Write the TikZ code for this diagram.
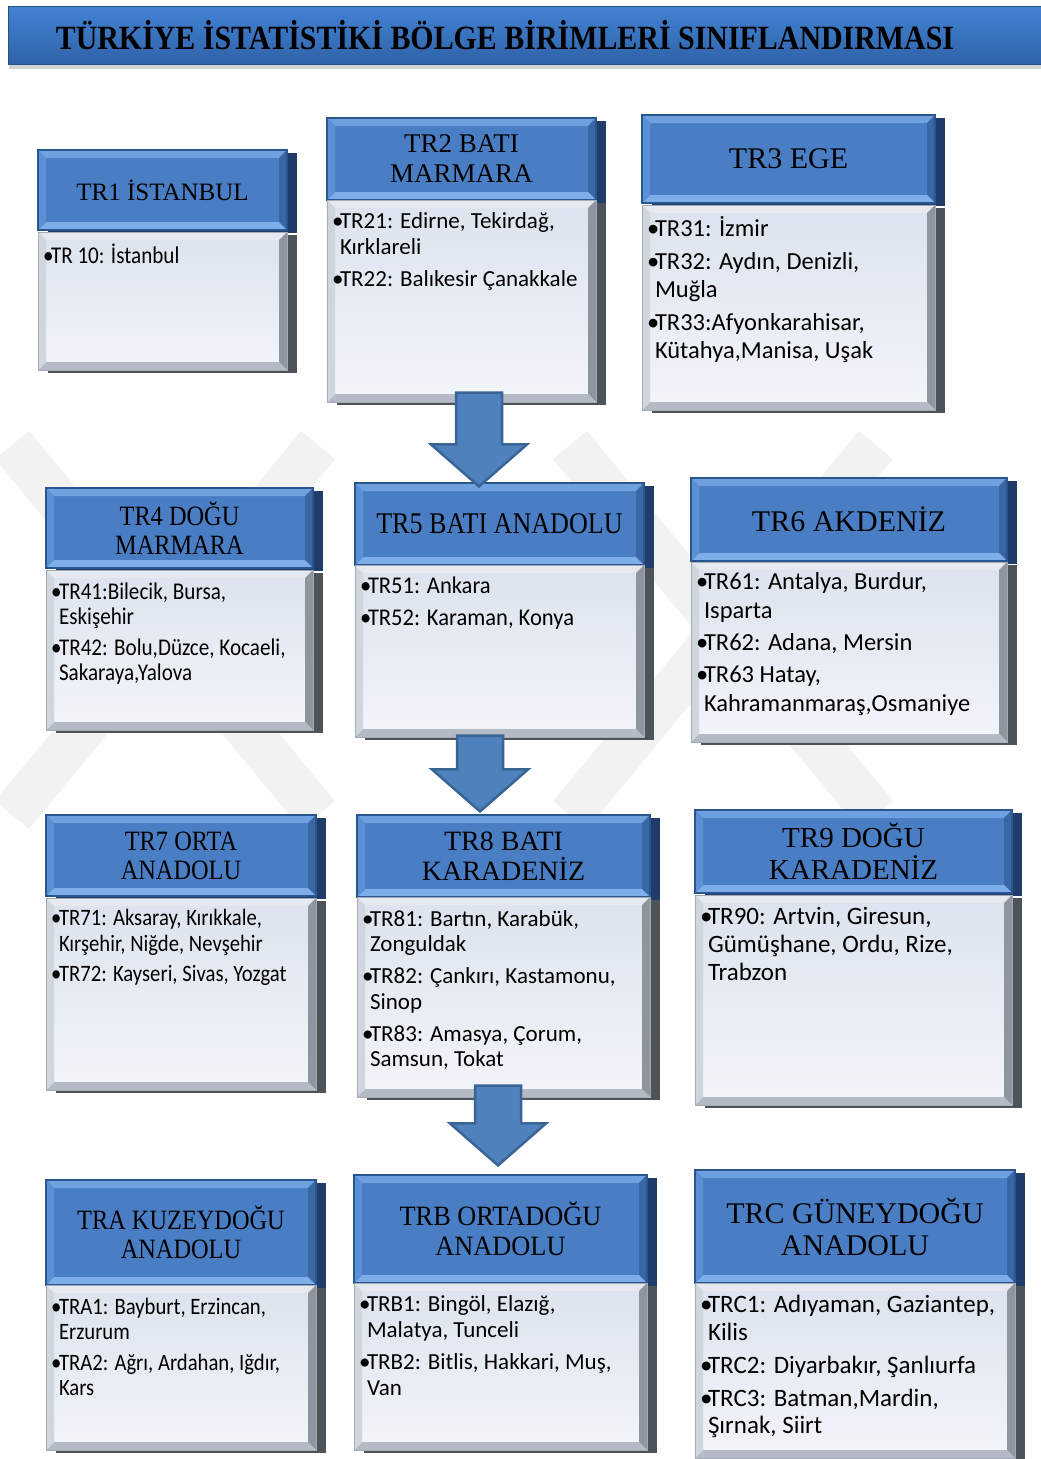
\documentclass[tikz,border=0pt]{standalone}
\usepackage{fontspec}
\setmainfont{Liberation Serif}
\newfontfamily\calibri{Carlito}
\newfontfamily\calibrin{Carlito}[FakeStretch=0.88]
\newfontfamily\calibris{Carlito}[FakeStretch=0.94]
\newfontfamily\timesn{Liberation Serif}[FakeStretch=0.87]
\newfontfamily\timess{Liberation Serif}[FakeStretch=0.94]
\newfontfamily\timest{Liberation Serif}[FakeStretch=0.88]
\usetikzlibrary{calc,shadows}

\definecolor{hdrface}{HTML}{4A7EC4}
\definecolor{hdredge}{HTML}{2A5690}
\definecolor{hdrtop}{HTML}{6FA1E0}
\definecolor{hdrright}{HTML}{3A66A3}
\definecolor{hdrbot}{HTML}{7DAEEA}
\definecolor{hdrleft}{HTML}{5C90D4}
\definecolor{hdrshade}{HTML}{1F3C6B}
\definecolor{bodytop}{HTML}{DCE3EE}
\definecolor{bodybot}{HTML}{F2F5FA}
\definecolor{bodyedge}{HTML}{A3ABB6}
\definecolor{bodytopb}{HTML}{E6EAF0}
\definecolor{bodyright}{HTML}{8E959E}
\definecolor{bodybotb}{HTML}{B4BBC5}
\definecolor{bodyleft}{HTML}{D0D6DE}
\definecolor{bodyshade}{HTML}{4E535A}
\definecolor{arrowblue}{HTML}{4F81BD}
\definecolor{arrowedge}{HTML}{3A6496}
\definecolor{bartop}{HTML}{4283D3}
\definecolor{barbot}{HTML}{2F62A8}
\definecolor{baredge}{HTML}{2A4F80}

% one bullet line, later lines hang under the text
\newcommand{\itm}{\par\hangindent=8pt\hangafter=1\noindent\makebox[8pt][l]{•}}
\newcommand{\btext}[4]{\parbox[c][#2pt][t]{#1pt}{#3\raggedright\leftskip=5pt\relax\vspace*{7pt}#4}}

\begin{document}
\begin{tikzpicture}[x=1pt, y=-1pt,
    bevel/.style n args={5}{path picture={
      \fill[#2] (path picture bounding box.north west) -- (path picture bounding box.north east) -- ([xshift=-#1,yshift=-#1]path picture bounding box.north east) -- ([xshift=#1,yshift=-#1]path picture bounding box.north west) -- cycle;
      \fill[#3] (path picture bounding box.north east) -- (path picture bounding box.south east) -- ([xshift=-#1,yshift=#1]path picture bounding box.south east) -- ([xshift=-#1,yshift=-#1]path picture bounding box.north east) -- cycle;
      \fill[#4] (path picture bounding box.south east) -- (path picture bounding box.south west) -- ([xshift=#1,yshift=#1]path picture bounding box.south west) -- ([xshift=-#1,yshift=#1]path picture bounding box.south east) -- cycle;
      \fill[#5] (path picture bounding box.south west) -- (path picture bounding box.north west) -- ([xshift=#1,yshift=-#1]path picture bounding box.north west) -- ([xshift=#1,yshift=#1]path picture bounding box.south west) -- cycle;}},
    hdr/.style={draw=hdredge, line width=1.2pt, fill=hdrface, bevel={8pt}{hdrtop}{hdrright}{hdrbot}{hdrleft}, inner sep=0pt, align=center, text=black,
      drop shadow={shadow xshift=10pt, shadow yshift=-3pt, fill=hdrshade, opacity=1}},
    body/.style={draw=bodyedge, line width=1pt, top color=bodytop, bottom color=bodybot, bevel={8pt}{bodytopb}{bodyright}{bodybotb}{bodyleft}, inner sep=0pt,
      drop shadow={shadow xshift=10pt, shadow yshift=-3pt, fill=bodyshade, opacity=1}},
    titlebar/.style={draw=baredge, line width=1pt, top color=bartop, bottom color=barbot, inner sep=0pt, drop shadow={shadow xshift=1pt, shadow yshift=-5pt, opacity=.35}, font=\timest\bfseries\fontsize{34}{34}\selectfont},
    wmark/.style={draw=black!5, line width=44pt},
    bigarrow/.style={fill=arrowblue, draw=arrowedge, line width=2.5pt, line join=miter,
      to path={let \p1=(\tikztostart), \p2=(\tikztotarget) in
        ({\x1-23pt},{\y1}) -- ({\x1+23pt},{\y1}) -- ({\x1+23pt},{\y2+42pt}) -- ({\x1+48pt},{\y2+42pt})
        -- ({\x1},{\y2}) -- ({\x1-48pt},{\y2+42pt}) -- ({\x1-23pt},{\y2+42pt}) -- cycle}}]

  \useasboundingbox[fill=white] (0,0) rectangle (1041,1459);

  % watermark
  \draw[wmark] (12,445) -- (318,815);
  \draw[wmark] (318,445) -- (12,815);
  \draw[wmark] (570,445) -- (876,815);
  \draw[wmark] (876,445) -- (570,815);

  \node[titlebar, minimum width=1040pt, minimum height=58pt] (title) at (528,35)
    {\hspace*{-46pt}TÜRKİYE İSTATİSTİKİ BÖLGE BİRİMLERİ SINIFLANDIRMASI};

  \begin{scope}[every node/.style={hdr}]
    \node[minimum width=249pt, minimum height=80pt, font=\fontsize{25}{29}\selectfont] (h1) at (162.5,190) {TR1 İSTANBUL};
    \node[minimum width=269pt, minimum height=82pt, font=\fontsize{27}{30}\selectfont] (h2) at (461.5,159) {TR2 BATI\\MARMARA};
    \node[minimum width=293pt, minimum height=88pt, font=\fontsize{30}{32}\selectfont] (h3) at (788.5,159) {TR3 EGE};
    \node[minimum width=267pt, minimum height=80pt, font=\timesn\fontsize{28}{29}\selectfont] (h4) at (179.5,528) {TR4 DOĞU\\MARMARA};
    \node[minimum width=289pt, minimum height=82pt, font=\timesn\fontsize{30}{32}\selectfont] (h5) at (499.5,524) {TR5 BATI ANADOLU};
    \node[minimum width=316pt, minimum height=83pt, font=\fontsize{30}{32}\selectfont] (h6) at (849,519.5) {TR6 AKDENİZ};
    \node[minimum width=270pt, minimum height=81pt, font=\timesn\fontsize{28}{29}\selectfont] (h7) at (181,855.5) {TR7 ORTA\\ANADOLU};
    \node[minimum width=293pt, minimum height=82pt, font=\fontsize{28}{30}\selectfont] (h8) at (503.5,856) {TR8 BATI\\KARADENİZ};
    \node[minimum width=317pt, minimum height=83pt, font=\fontsize{29}{32}\selectfont] (h9) at (853.5,851.5) {TR9 DOĞU\\KARADENİZ};
    \node[minimum width=270pt, minimum height=105pt, font=\timesn\fontsize{28}{29}\selectfont] (hA) at (181,1232.5) {TRA KUZEYDOĞU\\ANADOLU};
    \node[minimum width=293pt, minimum height=108pt, font=\timess\fontsize{28}{30}\selectfont] (hB) at (500.5,1229) {TRB ORTADOĞU\\ANADOLU};
    \node[minimum width=320pt, minimum height=113pt, font=\fontsize{30}{32}\selectfont] (hC) at (855,1226.5) {TRC GÜNEYDOĞU\\ANADOLU};
  \end{scope}

  \begin{scope}[every node/.style={body}]
    \node (b1) at (162.5,301) {\btext{249}{138}{\calibrin\fontsize{24}{27}\selectfont\parskip=5pt}{\itm TR 10: İstanbul}};
    \node (b2) at (461.5,301) {\btext{269}{202}{\calibri\fontsize{23}{26}\selectfont\parskip=6pt}{\itm TR21: Edirne, Tekirdağ,\newline Kırklareli \itm TR22: Balıkesir Çanakkale}};
    \node (b3) at (788.5,307.5) {\btext{293}{205}{\calibri\fontsize{24.5}{28}\selectfont\parskip=5pt}{\itm TR31: İzmir \itm TR32: Aydın, Denizli,\newline Muğla \itm TR33:Afyonkarahisar,\newline Kütahya,Manisa, Uşak}};
    \node (b4) at (179.5,650) {\btext{267}{160}{\calibrin\fontsize{24}{25}\selectfont\parskip=6pt}{\itm TR41:Bilecik, Bursa,\newline Eskişehir \itm TR42: Bolu,Düzce, Kocaeli,\newline Sakaraya,Yalova}};
    \node (b5) at (499.5,651) {\btext{289}{172}{\calibris\fontsize{24}{27}\selectfont\parskip=5pt}{\itm TR51: Ankara \itm TR52: Karaman, Konya}};
    \node (b6) at (849,652) {\btext{316}{180}{\calibri\fontsize{24.5}{29}\selectfont\parskip=3pt}{\itm TR61: Antalya, Burdur,\newline Isparta \itm TR62: Adana, Mersin \itm TR63 Hatay,\newline Kahramanmaraş,Osmaniye}};
    \node (b7) at (181,994) {\btext{270}{192}{\calibrin\fontsize{23.5}{26}\selectfont\parskip=4pt}{\itm TR71: Aksaray, Kırıkkale,\newline Kırşehir, Niğde, Nevşehir \itm TR72: Kayseri, Sivas, Yozgat}};
    \node (b8) at (503.5,997) {\btext{293}{200}{\calibri\fontsize{23}{25.5}\selectfont\parskip=6.5pt}{\itm TR81: Bartın, Karabük,\newline Zonguldak \itm TR82: Çankırı, Kastamonu,\newline Sinop \itm TR83: Amasya, Çorum,\newline Samsun, Tokat}};
    \node (b9) at (853.5,1000) {\btext{317}{210}{\calibri\fontsize{25}{28}\selectfont\parskip=5pt}{\itm TR90: Artvin, Giresun,\newline Gümüşhane, Ordu, Rize,\newline Trabzon}};
    \node (bA) at (181,1367.5) {\btext{270}{165}{\calibrin\fontsize{23.5}{25}\selectfont\parskip=6pt}{\itm TRA1: Bayburt, Erzincan,\newline Erzurum \itm TRA2: Ağrı, Ardahan, Iğdır,\newline Kars}};
    \node (bB) at (500.5,1366.5) {\btext{293}{167}{\calibri\fontsize{23}{26}\selectfont\parskip=6pt}{\itm TRB1: Bingöl, Elazığ,\newline Malatya, Tunceli \itm TRB2: Bitlis, Hakkari, Muş,\newline Van}};
    \node (bC) at (855,1370.5) {\btext{320}{175}{\calibri\fontsize{25}{27.5}\selectfont\parskip=5.5pt}{\itm TRC1: Adıyaman, Gaziantep,\newline Kilis \itm TRC2: Diyarbakır, Şanlıurfa \itm TRC3: Batman,Mardin,\newline Şırnak, Siirt}};
  \end{scope}

  \draw[bigarrow] ([xshift=17.5pt,yshift=10pt]b2.south) to ([yshift=-4pt]h5.north);
  \draw[bigarrow] ([xshift=-19.5pt,yshift=2pt]b5.south) to ([yshift=3pt]h8.north);
  \draw[bigarrow] ([xshift=-5.5pt,yshift=12pt]b8.south) to ([yshift=9pt]hB.north);

\end{tikzpicture}
\end{document}
